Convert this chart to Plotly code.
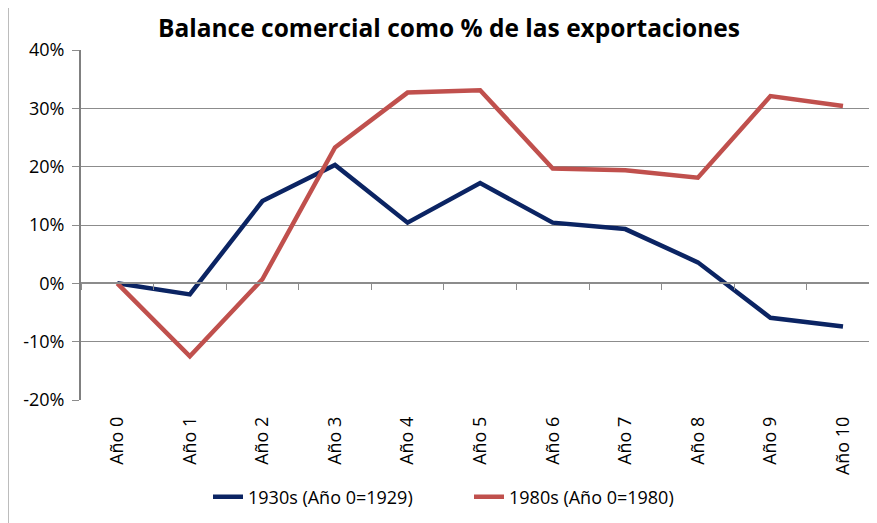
import plotly.graph_objects as go

categories = ["Año 0", "Año 1", "Año 2", "Año 3", "Año 4", "Año 5",
              "Año 6", "Año 7", "Año 8", "Año 9", "Año 10"]
s1930_name = "1930s (Año 0=1929)"
s1930 = [0.0, -0.019, 0.141, 0.203, 0.104, 0.172, 0.104, 0.093, 0.036, -0.059, -0.074]
s1980_name = "1980s (Año 0=1980)"
s1980 = [0.0, -0.125, 0.007, 0.233, 0.327, 0.331, 0.197, 0.194, 0.181, 0.321, 0.304]
y_ticks = [-0.2, -0.1, 0.0, 0.1, 0.2, 0.3, 0.4]
y_ticktext = [f"{round(v * 100)}%" for v in y_ticks]

OFF = 8  # page body margin
W, H = 877 - OFF, 523 - OFF
ML, MR, MT, MB = 81 - OFF, 0, 50 - OFF, 123
FONT = "Open Sans"
GRID = "#8c8c8c"

fig = go.Figure()
fig.add_trace(go.Scatter(x=categories, y=s1930, name=s1930_name, mode="lines",
                         line=dict(color="#0b2463", width=4.5)))
fig.add_trace(go.Scatter(x=categories, y=s1980, name=s1980_name, mode="lines",
                         line=dict(color="#c0504d", width=4.5)))
# invisible trace to carry the category axis drawn at the zero line
fig.add_trace(go.Scatter(x=categories, y=[0]*len(categories), xaxis="x2", mode="lines",
                         line=dict(width=0), showlegend=False, hoverinfo="skip"))

plot_w = W - ML - MR
plot_h = H - MT - MB
cat_px = 762 / 10.5
x_hi = -0.5 + plot_w / cat_px

fig.update_layout(
    width=W, height=H,
    margin=dict(l=ML, r=MR, t=MT, b=MB),
    paper_bgcolor="white", plot_bgcolor="white",
    font=dict(family=FONT, size=18, color="black"),
    title=dict(text="<b>Balance comercial como % de las exportaciones</b>",
               x=(449 - OFF) / W, xanchor="center", xref="container",
               y=1 - (28 - OFF) / H, yanchor="middle", yref="container",
               font=dict(family=FONT, size=24.5, color="black")),
    xaxis=dict(type="category", categoryarray=categories, range=[-0.5, x_hi],
               showgrid=False, showline=False, ticks="", tickangle=-90,
               ticklabelstandoff=12,
               tickfont=dict(size=18), zeroline=False),
    xaxis2=dict(type="category", categoryarray=categories, range=[-0.5, x_hi],
                overlaying="x", anchor="free", position=1/3, side="bottom",
                showline=True, linecolor=GRID, linewidth=1.5,
                ticks="outside", tickson="boundaries", ticklen=6, tickcolor=GRID,
                showticklabels=False, showgrid=False, zeroline=False),
    yaxis=dict(range=[-0.2, 0.4], tickvals=y_ticks, ticktext=y_ticktext,
               showgrid=True, gridcolor=GRID, gridwidth=1,
               showline=True, linecolor="#808080", linewidth=2,
               ticks="outside", ticklen=7, tickcolor=GRID,
               ticklabelstandoff=4,
               zeroline=False, tickfont=dict(size=18)),
    legend=dict(orientation="h", x=(208 - OFF) / W, xanchor="left", xref="container",
                y=1 - (497 - OFF) / H, yanchor="middle", yref="container",
                font=dict(size=18), itemwidth=30, tracegroupgap=0,
                entrywidth=216, entrywidthmode="pixels"),
    showlegend=True,
)

# chart-area border (outer frame)
fig.add_shape(type="rect", xref="paper", yref="paper",
              x0=(8 - 81) / plot_w, x1=(W + 5 - ML) / plot_w,
              y0=-(MB + 5) / plot_h, y1=1 + (50 - 6) / plot_h,
              line=dict(color="#a6a6a6", width=1.5), layer="below")

fig.write_html("out.html")
